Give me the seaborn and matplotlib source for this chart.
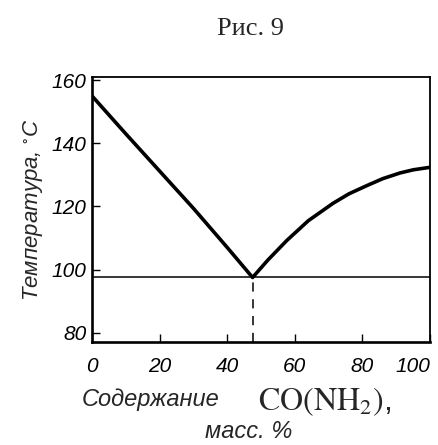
import matplotlib
matplotlib.use("Agg")
import matplotlib.pyplot as plt
import seaborn as sns
import pandas as pd

# состав (масс. % CO(NH2)2) и температура ликвидуса, °C
comp = [0, 10, 20, 30, 40, 47.5, 52, 57.6, 64, 71.3, 76, 81.3, 86, 91.1, 95, 100]
temp = [155, 143, 131.2, 119.4, 107, 97.5, 103, 109.2, 115.5, 121, 124, 126.6, 128.8, 130.6, 131.6, 132.4]
eut_x = 47.5
eut_t = 97.5

xticks = [0, 20, 40, 60, 80, 100]
yticks = [80, 100, 120, 140, 160]

sns.set_style("ticks")
plt.rcParams["font.family"] = ["Liberation Sans", "DejaVu Sans"]
plt.rcParams["mathtext.fontset"] = "stix"

df = pd.DataFrame({"x": comp, "t": temp})

fig = plt.figure(figsize=(4.38, 4.45), dpi=100)
ax = fig.add_axes([0.21, 0.231, 0.772, 0.596])

sns.lineplot(data=df, x="x", y="t", ax=ax, color="black", lw=2.6, sort=False)
ax.axhline(eut_t, color="black", lw=1.1)
ax.plot([eut_x, eut_x], [77, eut_t], color="black", lw=1.1, ls=(0, (6, 5)))

ax.set_xlim(0, 100)
ax.set_ylim(77, 161)
ax.set_xticks(xticks)
ax.set_yticks(yticks)
ax.set_xticklabels([str(v) for v in xticks], fontstyle="italic", fontsize=15)
ax.set_yticklabels([str(v) for v in yticks], fontstyle="italic", fontsize=15)
ax.get_xticklabels()[-1].set_ha("right")
ax.tick_params(direction="in", length=6, width=1, colors="black")
ax.tick_params(axis="x", pad=11)
ax.tick_params(axis="y", pad=4)
for name, s in ax.spines.items():
    s.set_color("black")
    s.set_linewidth(1.9 if name in ("left", "bottom") else 1.3)
ax.set_xlabel("")
ax.set_ylabel("Температура, $^{\\circ}$C", fontstyle="italic", fontsize=16, labelpad=5)

fig.text(0.572, 0.935, "Рис. 9", family="Liberation Serif", fontsize=19, ha="center", va="center")
fig.text(0.187, 0.103, "Содержание", fontstyle="italic", fontsize=17, ha="left", va="center")
fig.text(0.588, 0.098, "$\\mathrm{CO(NH_2)}$,", fontsize=23, ha="left", va="center")
fig.text(0.567, 0.03, "масс. %", fontstyle="italic", fontsize=17, ha="center", va="center")

fig.savefig("out.png", dpi=100, facecolor="white")
